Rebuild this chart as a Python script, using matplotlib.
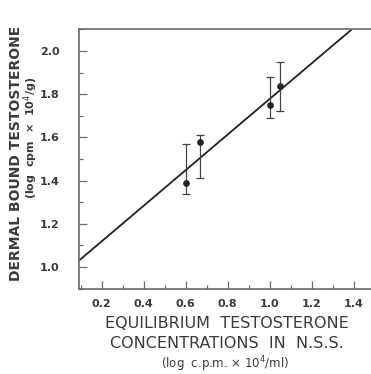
import numpy as np
import matplotlib
matplotlib.use('Agg')
import matplotlib.pyplot as plt
from matplotlib.ticker import MultipleLocator

#=======================================================================================
# Data
#=======================================================================================

x_pts = [0.60, 0.67, 1.00, 1.05]
y_pts = [1.39, 1.58, 1.75, 1.84]
y_top = [1.57, 1.61, 1.88, 1.95]
y_bot = [1.34, 1.41, 1.69, 1.72]

# regression line end points
line_x = [0.09, 1.39]
line_y = [1.028, 2.10]

xticks = [0.2, 0.4, 0.6, 0.8, 1.0, 1.2, 1.4]
xlabels = ['0.2', '0.4', '0.6', '0.8', '1.0', '1.2', '1.4']
yticks = [1.0, 1.2, 1.4, 1.6, 1.8, 2.0]
ylabels = ['1.0', '1.2', '1.4', '1.6', '1.8', '2.0']

txt = '#3a3a3a'
spine_col = '#6a6a6a'

#=======================================================================================
# Plot
#=======================================================================================

fig = plt.figure(figsize=(3.71, 3.74), dpi=100)
ax = fig.add_axes([79/371, 1-289/374, 1-79/371, (289-29)/374])

ax.plot(line_x, line_y, color='#222222', lw=1.3, solid_capstyle='butt')

yerr = [np.array(y_pts) - np.array(y_bot), np.array(y_top) - np.array(y_pts)]
ax.errorbar(x_pts, y_pts, yerr=yerr, fmt='o', color='#222222', ms=3.8,
            ecolor='#444444', elinewidth=0.9, capsize=3, capthick=0.9)

ax.set_xlim(0.092, 1.482)
ax.set_ylim(0.898, 2.102)

ax.set_xticks(xticks)
ax.set_xticklabels(xlabels)
ax.set_yticks(yticks)
ax.set_yticklabels(ylabels)
ax.xaxis.set_minor_locator(MultipleLocator(0.1))
ax.yaxis.set_minor_locator(MultipleLocator(0.1))
ax.tick_params(which='both', direction='in', color=spine_col, width=0.9)
ax.tick_params(which='major', length=6, labelsize=8, labelcolor=txt)
ax.tick_params(axis='y', which='major', pad=14)
ax.tick_params(axis='x', which='major', pad=7)
ax.tick_params(which='minor', length=3)
for lab in ax.get_xticklabels() + ax.get_yticklabels():
    lab.set_fontweight('bold')

ax.spines['right'].set_visible(False)
for s in ['left', 'bottom', 'top']:
    ax.spines[s].set_color(spine_col)
    ax.spines[s].set_linewidth(1.2)

#Axis titles
fig.text(16/371, 1-153/374, 'DERMAL BOUND TESTOSTERONE', rotation=90,
         ha='center', va='center', fontsize=10, fontweight='bold', color=txt)
fig.text(31/371, 1-138/374, '(log  cpm  ×  10$^4$/g)', rotation=90,
         ha='center', va='center', fontsize=8, fontweight='bold', color=txt)

fig.text(227/371, 1-323/374, 'EQUILIBRIUM  TESTOSTERONE',
         ha='center', va='center', fontsize=11.5, color=txt)
fig.text(227/371, 1-344/374, 'CONCENTRATIONS  IN  N.S.S.',
         ha='center', va='center', fontsize=11.5, color=txt)
fig.text(225/371, 1-364/374, '(log  c.p.m. × 10$^4$/ml)',
         ha='center', va='center', fontsize=8.5, color=txt)

plt.savefig('out.png', dpi=100)
plt.close()
